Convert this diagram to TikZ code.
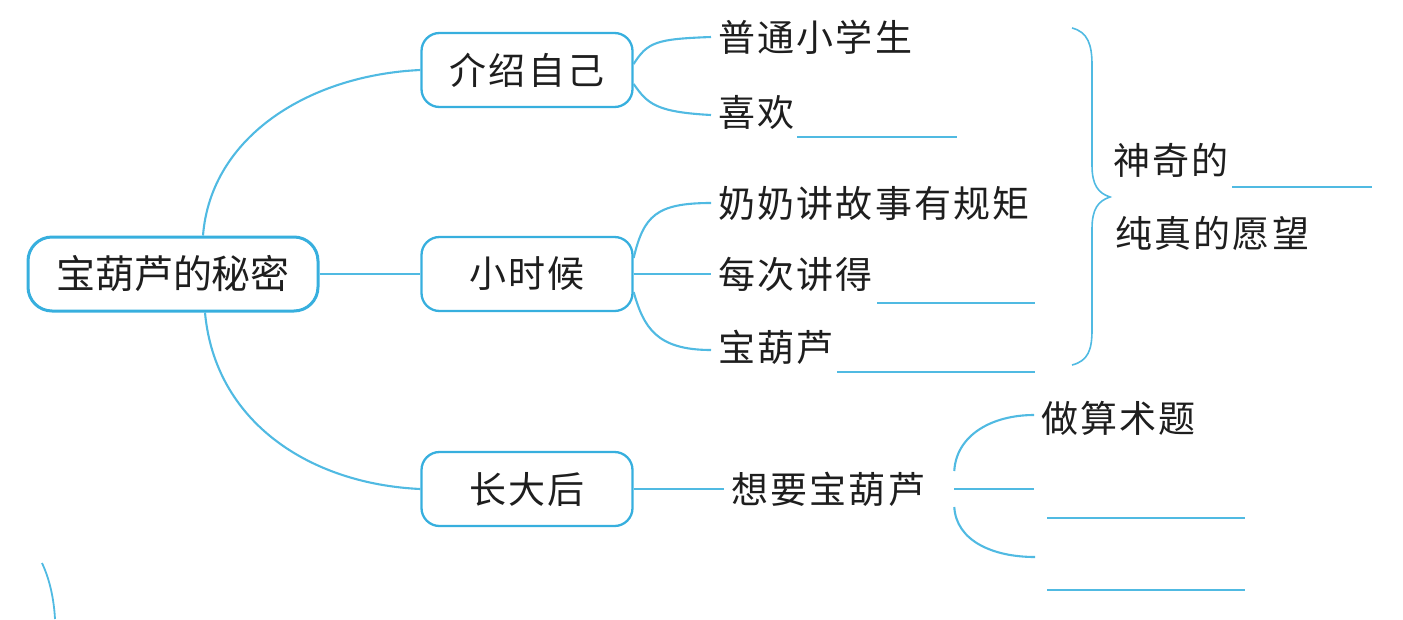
\documentclass[tikz,border=0pt]{standalone}
\usepackage{fontspec}
\newfontfamily\cjk{Noto Sans CJK SC}
\newfontfamily\cjkw[LetterSpace=6]{Noto Sans CJK SC}
\definecolor{linec}{RGB}{80,186,226}
\definecolor{boxc}{RGB}{55,175,222}
\definecolor{txt}{RGB}{30,30,30}
\begin{document}
\begin{tikzpicture}[x=1pt,y=-1pt,
  conn/.style={draw=linec,line width=2.1pt},
  blank/.style={draw=linec,line width=1.4pt},
  topic/.style={draw=boxc,line width=2.3pt,rounded corners=18pt,minimum width=211pt,minimum height=74pt,inner sep=0pt,font=\cjkw\fontsize{37}{40}\selectfont,text=txt},
  rootbox/.style={draw=boxc,line width=3pt,rounded corners=24pt,minimum width=290pt,minimum height=74pt,inner sep=0pt,font=\cjk\fontsize{39}{40}\selectfont,text=txt},
  leaf/.style={anchor=west,inner xsep=7pt,inner ysep=0pt,font=\cjkw\fontsize{37}{40}\selectfont,text=txt}]
\useasboundingbox (0,0) rectangle (1403,619);
% nodes
\node[rootbox] (root) at (173,274) {宝葫芦的秘密};
\node[topic] (intro) at (527,70) {介绍自己};
\node[topic] (child) at (527,274) {小时候};
\node[topic] (grown) at (527,489) {长大后};
\node[leaf] (a1) at (711,37) {普通小学生};
\node[leaf] (a2) at (711,112) {喜欢};
\node[leaf] (b1) at (711,203) {奶奶讲故事有规矩};
\node[leaf] (b2) at (711,274) {每次讲得};
\node[leaf] (b3) at (711,347) {宝葫芦};
\node[leaf] (w) at (724,489) {想要宝葫芦};
\node[leaf] (c1) at (1034,418) {做算术题};
\coordinate (c2) at (1034,489);
\coordinate (c3) at (1035,557);
\node[leaf] (d1) at (1106,160) {神奇的};
\node[leaf] (d2) at (1108,233) {纯真的愿望};
% root connectors
\draw[conn] ([xshift=30pt]root.north) .. controls +(8,-100) and +(-110,5) .. (intro.west);
\draw[conn] (root.east) -- (child.west);
\draw[conn] ([xshift=32pt]root.south) .. controls +(10,110) and +(-110,-5) .. (grown.west);
% intro children
\draw[conn] ([yshift=6pt]intro.east) .. controls +(14,-22) and +(-55,2) .. (a1.west);
\draw[conn] ([yshift=-14pt]intro.east) .. controls +(14,20) and +(-55,-3) .. ([yshift=-3pt]a2.west);
% childhood children
\draw[conn] ([yshift=16pt]child.east) .. controls +(10,-42) and +(-55,0) .. (b1.west);
\draw[conn] (child.east) -- (b2.west);
\draw[conn] ([yshift=-18pt]child.east) .. controls +(10,35) and +(-55,0) .. ([yshift=-3pt]b3.west);
% grown children
\draw[conn] (grown.east) -- (w.west);
\draw[conn] ([xshift=22pt,yshift=18pt]w.east) .. controls +(2,-36) and +(-42,0) .. ([yshift=3pt]c1.west);
\draw[conn] ([xshift=22pt]w.east) -- (c2);
\draw[conn] ([xshift=22pt,yshift=-18pt]w.east) .. controls +(2,34) and +(-42,0) .. (c3);
% blanks
\draw[blank] (797,137) -- (957,137);
\draw[blank] (877,303) -- (1035,303);
\draw[blank] (837,372) -- (1035,372);
\draw[blank] (1232,187) -- (1372,187);
\draw[blank] (1047,518) -- (1245,518);
\draw[blank] (1047,590) -- (1245,590);
% brace
\draw[draw=linec,line width=1.6pt] (1072,28) .. controls (1088,32) and (1092,45) .. (1092,65)
  -- (1092,165) .. controls (1092,185) and (1098,193) .. (1110,197)
  .. controls (1098,201) and (1092,209) .. (1092,229)
  -- (1092,330) .. controls (1092,350) and (1088,361) .. (1072,365);
% cropped fragment at lower left
\draw[draw=linec,line width=1.8pt] (42,563) .. controls (50,580) and (54,600) .. (55,619);
\end{tikzpicture}
\end{document}
